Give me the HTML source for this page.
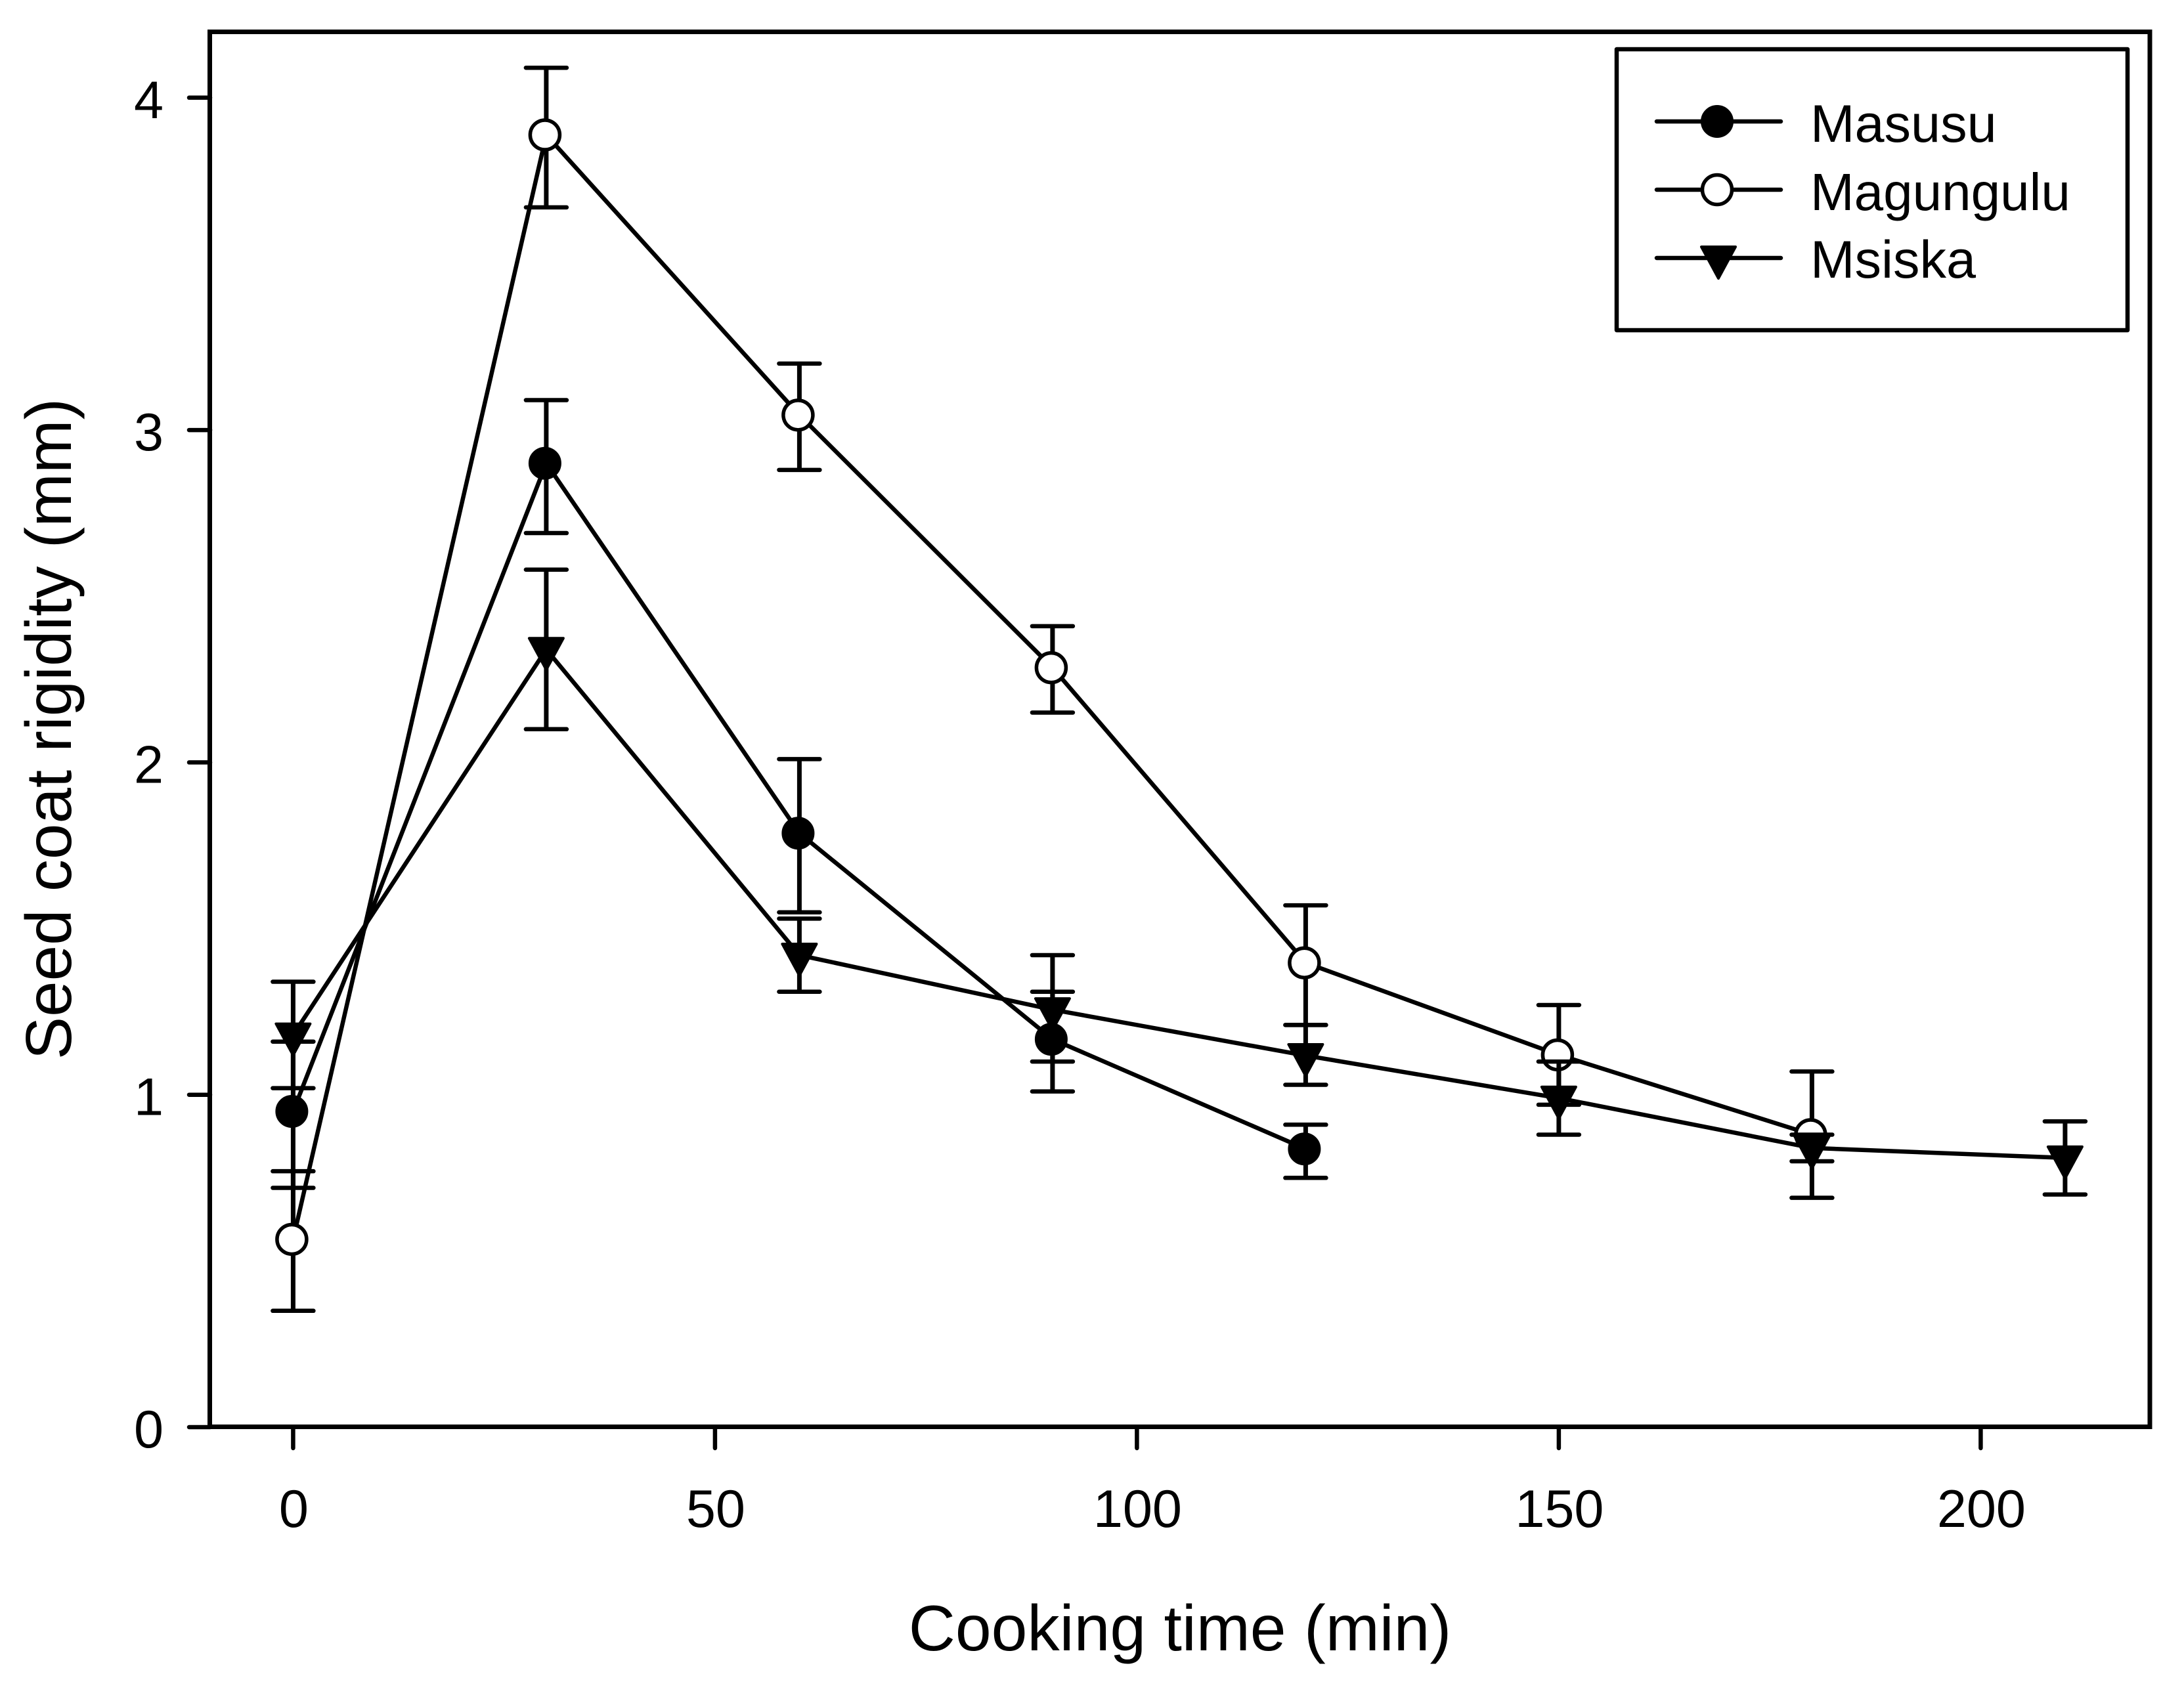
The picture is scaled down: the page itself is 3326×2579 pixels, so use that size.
<!DOCTYPE html>
<html lang="en">
<head>
<meta charset="utf-8">
<title>Seed coat rigidity vs cooking time</title>
<style>
html,body{margin:0;padding:0;background:#fff;}
svg{display:block;}
text{font-family:"Liberation Sans",Arial,sans-serif;fill:#000;}
</style>
</head>
<body>
<svg id="chart" xmlns="http://www.w3.org/2000/svg" width="3326" height="2579" viewBox="0 0 3326 2579">
  <rect x="0" y="0" width="3326" height="2579" fill="#fff"/>
  <rect x="319.5" y="48.5" width="2954.5" height="2125" fill="none" stroke="#000" stroke-width="7"/>
  <g id="x-axis"></g>
  <g id="y-axis"></g>
  <text x="1797" y="2514" font-size="98.5" text-anchor="middle">Cooking time (min)</text>
  <text transform="translate(108 1110.5) rotate(-90)" font-size="98" text-anchor="middle">Seed coat rigidity (mm)</text>
  <g id="series-magungulu"></g>
  <g id="series-msiska"></g>
  <g id="series-masusu"></g>
  <g>
    <rect x="2462" y="75" width="778" height="428" fill="#fff" stroke="#000" stroke-width="6.5" stroke-linejoin="round"/>
    <g>
      <line x1="2523" y1="185" x2="2712" y2="185" stroke="#000" stroke-width="6.5" stroke-linecap="round"/>
      <circle cx="2615" cy="185" r="22.5" fill="#000" stroke="#000" stroke-width="5"/>
      <text x="2757" y="216" font-size="81">Masusu</text>
    </g>
    <g>
      <line x1="2523" y1="289" x2="2712" y2="289" stroke="#000" stroke-width="6.5" stroke-linecap="round"/>
      <circle cx="2615" cy="289" r="22.5" fill="#fff" stroke="#000" stroke-width="5.5"/>
      <text x="2757" y="320" font-size="80">Magungulu</text>
    </g>
    <g>
      <line x1="2523" y1="393" x2="2712" y2="393" stroke="#000" stroke-width="6.5" stroke-linecap="round"/>
      <polygon points="2591,376 2643,376 2617,424" fill="#000" stroke="#000" stroke-width="4" stroke-linejoin="round"/>
      <text x="2757" y="423" font-size="81">Msiska</text>
    </g>
  </g>
</svg>
<script>
// Chart data
const xTicks = [0, 50, 100, 150, 200];
const yTicks = [0, 1, 2, 3, 4];

const masusuTime = [0, 30, 60, 90, 120];
const masusuMean = [0.95, 2.9, 1.787, 1.167, 0.837];
const masusuUpper = [1.16, 3.09, 2.01, 1.42, 0.91];
const masusuLower = [0.72, 2.69, 1.549, 1.01, 0.75];

const magunguluTime = [0, 30, 60, 90, 120, 150, 180];
const magunguluMean = [0.565, 3.888, 3.045, 2.285, 1.397, 1.12, 0.88];
const magunguluUpper = [0.77, 4.09, 3.2, 2.41, 1.57, 1.27, 1.07];
const magunguluLower = [0.35, 3.67, 2.88, 2.15, 1.21, 0.97, 0.69];

const msiskaTime = [0, 30, 60, 90, 120, 150, 180, 210];
const msiskaMean = [1.18, 2.34, 1.42, 1.256, 1.118, 0.99, 0.84, 0.81];
const msiskaUpper = [1.34, 2.58, 1.53, 1.31, 1.21, 1.1, 0.88, 0.92];
const msiskaLower = [1.02, 2.1, 1.31, 1.1, 1.03, 0.88, 0.8, 0.7];

const SVG_NS = 'http://www.w3.org/2000/svg';
function xScale(v) { return 446.4 + 12.85 * v; }
function yScale(v) { return 2174 - 506.3 * v; }

function mk(parent, tag, attrs) {
  const el = document.createElementNS(SVG_NS, tag);
  for (const k in attrs) el.setAttribute(k, attrs[k]);
  parent.appendChild(el);
  return el;
}

const xAxisGroup = document.getElementById('x-axis');
xTicks.forEach(function (t) {
  const tick = mk(xAxisGroup, 'line', { x1: xScale(t), y1: 2174, x2: xScale(t), y2: 2206, stroke: '#000', 'stroke-width': 6.5, 'stroke-linecap': 'round' });
  
  
  const label = mk(xAxisGroup, 'text', { x: xScale(t) + 1, y: 2326, 'font-size': 81, 'text-anchor': 'middle' });
  label.textContent = String(t);
  
  
});

const yAxisGroup = document.getElementById('y-axis');
yTicks.forEach(function (t) {
  const tick = mk(yAxisGroup, 'line', { x1: 288, y1: yScale(t), x2: 320, y2: yScale(t), stroke: '#000', 'stroke-width': 6.5, 'stroke-linecap': 'round' });
  
  
  const label = mk(yAxisGroup, 'text', { x: 249, y: yScale(t) + 31, 'font-size': 81, 'text-anchor': 'end' });
  label.textContent = String(t);
  
  
});

function drawSeries(groupId, times, means, uppers, lowers, kind) {
  const group = document.getElementById(groupId);
  times.forEach(function (t, i) {
    const x = xScale(t);
    const stem = mk(group, 'line', { x1: x, y1: yScale(uppers[i]), x2: x, y2: yScale(lowers[i]), stroke: '#000', 'stroke-width': 7 });
    
    
    [uppers[i], lowers[i]].forEach(function (v) {
      const cap = mk(group, 'line', { x1: x - 31, y1: yScale(v), x2: x + 31, y2: yScale(v), stroke: '#000', 'stroke-width': 6.5, 'stroke-linecap': 'round' });
      
      
    });
  });
  const pts = times.map(function (t, i) { return xScale(t) + ',' + yScale(means[i]); }).join(' ');
  const line = mk(group, 'polyline', { points: pts, fill: 'none', stroke: '#000', 'stroke-width': 6.5, 'stroke-linejoin': 'round' });
  
  
  times.forEach(function (t, i) {
    const x = xScale(t);
    const y = yScale(means[i]);
    let marker;
    if (kind === 'triangle') {
      marker = mk(group, 'polygon', { points: (x - 26) + ',' + (y - 17) + ' ' + (x + 26) + ',' + (y - 17) + ' ' + x + ',' + (y + 31), fill: '#000', stroke: '#000', 'stroke-width': 4, 'stroke-linejoin': 'round' });
    } else {
      marker = mk(group, 'circle', { cx: x - 2, cy: y, r: 22.5, fill: kind === 'open' ? '#fff' : '#000', stroke: '#000', 'stroke-width': kind === 'open' ? 5.5 : 5 });
    }
    
    
  });
}

drawSeries('series-magungulu', magunguluTime, magunguluMean, magunguluUpper, magunguluLower, 'open');
drawSeries('series-msiska', msiskaTime, msiskaMean, msiskaUpper, msiskaLower, 'triangle');
drawSeries('series-masusu', masusuTime, masusuMean, masusuUpper, masusuLower, 'filled');
</script>
</body>
</html>
